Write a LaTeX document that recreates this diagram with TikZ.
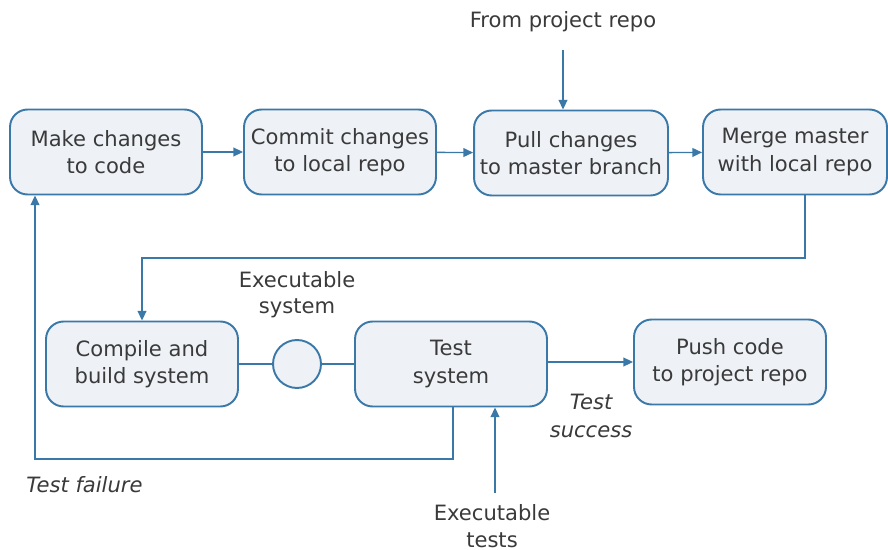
\documentclass[tikz,border=0pt]{standalone}
\usepackage{fontspec}
\setmainfont{DejaVu Sans}
\usetikzlibrary{arrows.meta,positioning}
\definecolor{edge}{HTML}{3A78A8}
\definecolor{boxfill}{HTML}{EEF2F7}
\definecolor{txt}{HTML}{3A3A3A}

\begin{document}
\begin{tikzpicture}[
x=0.02cm, y=-0.02cm,
stage/.style={draw=edge, line width=1.1pt, fill=boxfill, rounded corners=10pt,
	minimum width=3.84cm, minimum height=1.7cm, align=center, text=txt,
	font=\fontsize{12}{15.5}\selectfont},
flow/.style={draw=edge, line width=0.8pt, -{Triangle[length=5.5pt,width=5pt]}},
link/.style={draw=edge, line width=0.8pt},
lbl/.style={text=txt, align=center, inner sep=0pt, font=\fontsize{12}{15}\selectfont},
note/.style={lbl, font=\fontsize{12}{15.5}\selectfont\itshape}
]

\useasboundingbox (0,0) rectangle (888,550);

%%% top row
\node[stage] (make) at (106,152) {Make changes\\to code};
\node[stage] (commit) at (340,152) {Commit changes\\to local repo};
\node[stage] (pull) at (571,153) {Pull changes\\to master branch};
\node[stage, minimum width=3.68cm] (merge) at (795,152) {Merge master\\with local repo};

%%% bottom row
\node[stage] (compile) at (142,364) {Compile and\\build system};
\node[draw=edge, line width=1.1pt, fill=boxfill, circle, minimum size=0.96cm] (exe) at (297,364) {};
\node[stage] (test) at (451,364) {Test\\system};
\node[stage] (push) at (730,362) {Push code\\to project repo};

%%% labels
\node[lbl] (from) at (563,22) {From project repo};
\node[lbl] (exelbl) at (297,295) {Executable\\system};
\node[note] (succ) at (591,416) {Test\\success};
\node[note, anchor=west] (fail) at (26,485) {Test failure};
\node[lbl] (tests) at (492,526) {Executable\\tests};

\coordinate (src) at (563,50);
\coordinate (tsrc) at (495,493);

%%% connectors
\draw[flow] (make) -- (commit);
\draw[flow] (commit) -- (pull);
\draw[flow] (pull) -- (merge);
\draw[flow] (src) -- (src|-pull.north);
\draw[flow] (merge.south-|805,0) |- (142,258) -- (compile.north-|142,0);
\draw[link] (compile) -- (exe);
\draw[link] (exe) -- (test);
\draw[flow] (test.east|-362,362) -- (push.west|-362,362);
\draw[flow] (test.south-|453,0) |- (35,459) -- (make.south-|35,0);
\draw[flow] (tsrc) -- (tsrc|-test.south);

\end{tikzpicture}
\end{document}
